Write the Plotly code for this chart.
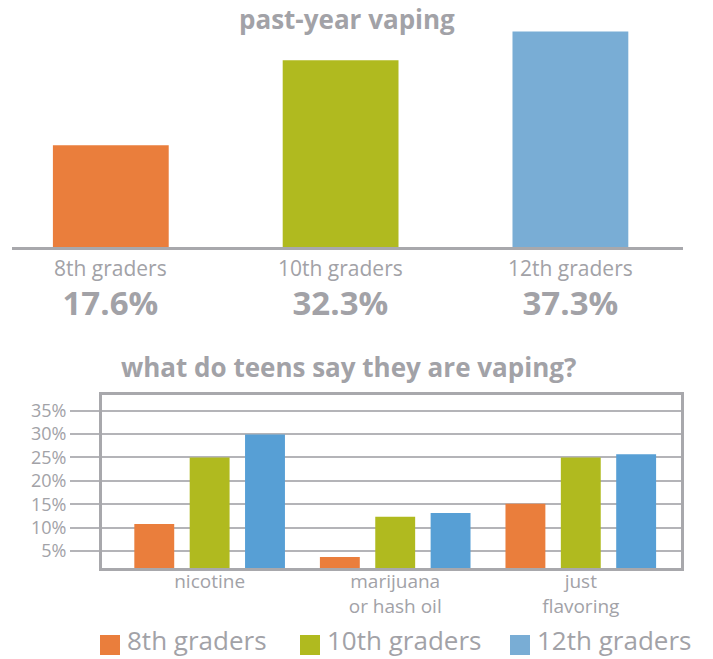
import plotly.graph_objects as go

# ---- data -------------------------------------------------------------
grades = ["8th graders", "10th graders", "12th graders"]
past_year = [17.6, 32.3, 37.3]

substances = ["nicotine", "marijuana<br>or hash oil", "just<br>flavoring"]
grade8 = [10.8, 3.7, 15.1]
grade10 = [25.0, 12.3, 25.0]
grade12 = [29.9, 13.1, 25.7]

pct_ticks = [5, 10, 15, 20, 25, 30, 35]

# ---- styling ----------------------------------------------------------
ORANGE = "#EA7E3C"
GREEN = "#B0BA1F"
LIGHT_BLUE = "#79ADD5"
BLUE = "#579FD5"
GRAY = "#A2A2A7"
LINE = "#A8A8AC"
GRID = "#B4B4B8"
FONT = "Open Sans"

W, H = 713, 659


def px_y(y):
    return 1 - y / H


def px_x(x):
    return x / W


fig = go.Figure()

# top panel: past-year vaping by grade
fig.add_trace(go.Bar(
    x=grades, y=past_year,
    marker=dict(color=[ORANGE, GREEN, LIGHT_BLUE], line=dict(width=0)),
    width=0.504, xaxis="x", yaxis="y", showlegend=False, hoverinfo="x+y",
))

# bottom panel: what is being vaped, grouped by grade
for name, vals, col in zip(grades, [grade8, grade10, grade12], [ORANGE, GREEN, BLUE]):
    fig.add_trace(go.Bar(
        x=substances, y=vals, name=name,
        marker=dict(color=col, line=dict(width=0)),
        width=0.215, xaxis="x2", yaxis="y2", showlegend=False,
    ))

annotations = []

# grade name with its value underneath each top bar (one two-line label)
for g, v in zip(grades, past_year):
    annotations.append(dict(
        x=g, xref="x", y=px_y(290), yref="paper",
        text=(f"<span style='font-size:21px'>{g}</span><br>"
              f"<span style='font-size:33px;font-weight:bold'>{v:.1f}%</span>"),
        showarrow=False, xanchor="center", yanchor="middle", align="center",
        font=dict(family=FONT, size=30, color=GRAY),
    ))

# panel titles
annotations.append(dict(
    x=px_x(347), y=px_y(19), xref="paper", yref="paper",
    text="<b>past-year vaping</b>", showarrow=False,
    xanchor="center", yanchor="middle",
    font=dict(family=FONT, size=26, color=GRAY),
))
annotations.append(dict(
    x=px_x(348), y=px_y(367), xref="paper", yref="paper",
    text="<b>what do teens say they are vaping?</b>", showarrow=False,
    xanchor="center", yanchor="middle",
    font=dict(family=FONT, size=26, color=GRAY),
))

# legend: colour swatches with grade names
shapes = []
legend_cols = [ORANGE, GREEN, LIGHT_BLUE]
swatch_x = [100, 300, 510]
for g, col, sx in zip(grades, legend_cols, swatch_x):
    shapes.append(dict(
        type="rect", xref="paper", yref="paper",
        x0=px_x(sx), x1=px_x(sx + 20), y0=px_y(655), y1=px_y(635),
        fillcolor=col, line=dict(width=0),
    ))
    annotations.append(dict(
        x=px_x(sx + 26), y=0, xref="paper", yref="paper",
        text=g, showarrow=False, xanchor="left", yanchor="bottom",
        borderpad=0,
        font=dict(family=FONT, size=26, color=GRAY),
    ))

fig.update_layout(
    width=W, height=H,
    margin=dict(l=0, r=0, t=0, b=0),
    paper_bgcolor="white", plot_bgcolor="white",
    barmode="group", bargap=0.105, bargroupgap=0,
    font=dict(family=FONT, color=GRAY),
    showlegend=False,
    xaxis=dict(
        domain=[px_x(12), px_x(683)], range=[-0.43, 2.49],
        showticklabels=False, ticks="", showgrid=False, zeroline=False,
        showline=True, linecolor=LINE, linewidth=3, anchor="y",
        fixedrange=True,
    ),
    yaxis=dict(
        domain=[px_y(247), px_y(24.5)], range=[0, 38.5],
        visible=False, anchor="x", fixedrange=True,
    ),
    xaxis2=dict(
        domain=[px_x(102), px_x(681)], range=[-0.58, 2.54],
        ticks="", showgrid=False, zeroline=False,
        showline=True, mirror=True, linecolor=LINE, linewidth=3,
        tickfont=dict(family=FONT, size=19, color=GRAY),
        ticklabelstandoff=-6,
        anchor="y2", fixedrange=True,
    ),
    yaxis2=dict(
        domain=[px_y(568), px_y(395)], range=[1.37, 38.35],
        tickvals=pct_ticks, ticktext=[f"{t}%" for t in pct_ticks],
        ticks="outside", ticklen=29, tickwidth=2, tickcolor=GRID,
        showgrid=True, gridcolor=GRID, gridwidth=2, zeroline=False,
        showline=True, mirror=True, linecolor=LINE, linewidth=3,
        tickfont=dict(family=FONT, size=18, color=GRAY),
        anchor="x2", fixedrange=True,
    ),
    annotations=annotations,
    shapes=shapes,
)

fig.write_html("out.html")
